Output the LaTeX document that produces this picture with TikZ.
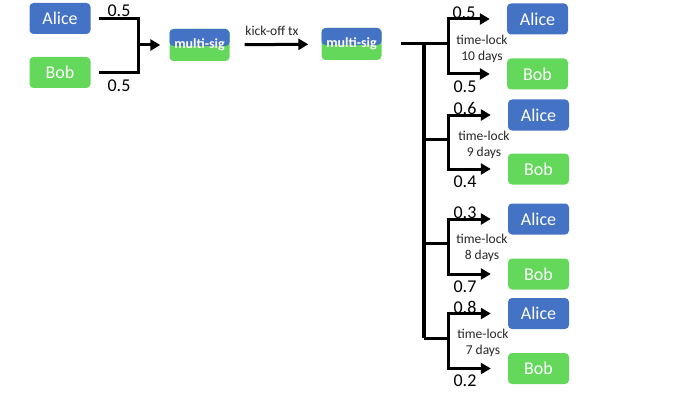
\documentclass[tikz,border=0pt]{standalone}
\usepackage{fontspec}
\setmainfont{Carlito}
\usetikzlibrary{arrows.meta}

\definecolor{aliceblue}{HTML}{4472C4}
\definecolor{bobgreen}{HTML}{63D85A}
\definecolor{inkgray}{HTML}{262626}

\tikzset{
  person/.style={rounded corners=4pt, minimum width=61pt, minimum height=31pt,
    inner sep=0pt, text=white, font=\fontsize{18}{18}\selectfont},
  alice/.style={person, fill=aliceblue},
  bob/.style={person, fill=bobgreen},
  msig/.style={rounded corners=4pt, minimum width=60pt, minimum height=32pt,
    inner sep=0pt, fill=bobgreen, text=white, font=\bfseries\fontsize{14}{14}\selectfont,
    path picture={\fill[aliceblue] (path picture bounding box.north west)
      rectangle ([yshift=-17pt]path picture bounding box.north east);}},
  wire/.style={line width=3pt},
  arr/.style={line width=3pt, -{Triangle[length=10pt,width=11pt]}},
  share/.style={font=\fontsize{18}{18}\selectfont},
  note/.style={font=\fontsize{13.5}{16}\selectfont, text=inkgray, align=center}
}

\begin{document}
\begin{tikzpicture}[x=1pt, y=-1pt]
    \useasboundingbox (0,0) rectangle (700,393);

    % Funding
    \node[alice] (aliceL) at (60,18.5) {Alice};
    \node[bob] (bobL) at (60,72.5) {Bob};
    \coordinate (join) at (138,45);
    \draw[wire] ([xshift=8pt]aliceL.east) -| (join) |- ([xshift=8pt]bobL.east);
    \node[share] (shareA) at (119,11) {0.5};
    \node[share] (shareB) at (119,86) {0.5};

    % Multi-sig outputs
    \node[msig] (ms1) at (199.5,45) {\raisebox{2pt}{multi-sig}};
    \node[msig] (ms2) at (351.5,44) {\raisebox{2pt}{multi-sig}};
    \draw[arr, shorten >=9pt] (join) -- (ms1);
    \draw[arr, shorten <=15pt, shorten >=13pt] (ms1) -- (ms2);
    \node[note, anchor=south] (kick) at (272,39) {kick-off tx};

    % Time-locked refunds
    \begin{scope}[shift={(0,47)}]
      \node[alice] (alice1) at (537.5,-28) {Alice};
      \node[bob] (bob1) at (537.5,27) {Bob};
      \coordinate (trunk1) at (424,-3);
      \coordinate (fork1) at (448,-3);
      \draw[arr, shorten >=17pt] (fork1) |- (alice1);
      \draw[arr, shorten >=17pt] (fork1) |- (bob1);
      \node[share] (up1) at (464,-34) {0.5};
      \node[share] (down1) at (465,40) {0.5};
      \node[note] (lock1) at (482,2) {time-lock\\10 days};
    \end{scope}

    \begin{scope}[shift={(0,142)}]
      \node[alice] (alice2) at (538.5,-27) {Alice};
      \node[bob] (bob2) at (538.5,27) {Bob};
      \coordinate (trunk2) at (424,-3);
      \coordinate (fork2) at (448,-3);
      \draw[arr, shorten >=17pt] (fork2) |- (alice2);
      \draw[arr, shorten >=17pt] (fork2) |- (bob2);
      \node[share] (up2) at (465,-34) {0.6};
      \node[share] (down2) at (465,40) {0.4};
      \node[note] (lock2) at (484,3) {time-lock\\9 days};
    \end{scope}

    \begin{scope}[shift={(0,246.5)}]
      \node[alice] (alice3) at (538.5,-27.5) {Alice};
      \node[bob] (bob3) at (538.5,27.5) {Bob};
      \coordinate (trunk3) at (424,-3);
      \coordinate (fork3) at (448,-3);
      \draw[arr, shorten >=17pt] (fork3) |- (alice3);
      \draw[arr, shorten >=17pt] (fork3) |- (bob3);
      \node[share] (up3) at (465,-34) {0.3};
      \node[share] (down3) at (465,40) {0.7};
      \node[note] (lock3) at (482,1) {time-lock\\8 days};
    \end{scope}

    \begin{scope}[shift={(0,341)}]
      \node[alice] (alice4) at (538.5,-27.5) {Alice};
      \node[bob] (bob4) at (538.5,27.5) {Bob};
      \coordinate (trunk4) at (424,-3);
      \coordinate (fork4) at (448,-3);
      \draw[arr, shorten >=17pt] (fork4) |- (alice4);
      \draw[arr, shorten >=17pt] (fork4) |- (bob4);
      \node[share] (up4) at (465,-34) {0.8};
      \node[share] (down4) at (465,40) {0.2};
      \node[note] (lock4) at (483,2) {time-lock\\7 days};
    \end{scope}

    % Trunk
    \draw[wire, shorten <=19pt] (ms2.east) -- (fork1);
    \draw[line width=3.5pt] (trunk1) -- (trunk4);
    \draw[wire] (trunk2) -- (fork2);
    \draw[wire] (trunk3) -- (fork3);
    \draw[wire] (trunk4) -- (fork4);
\end{tikzpicture}
\end{document}
